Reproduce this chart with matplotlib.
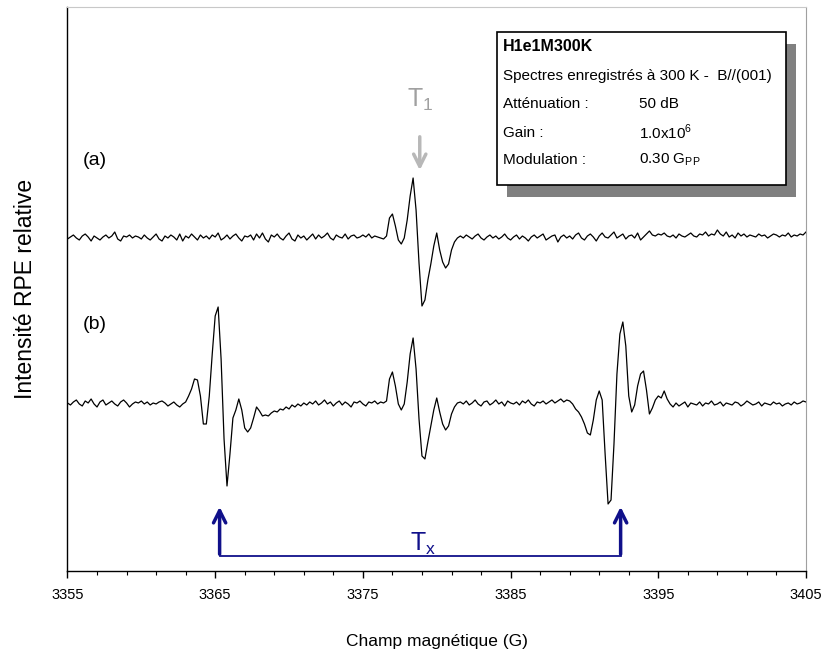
import numpy as np
import matplotlib.pyplot as plt
from matplotlib.patches import Rectangle

plt.rcParams['font.family'] = ['Liberation Sans', 'DejaVu Sans']
plt.rcParams['mathtext.fontset'] = 'custom'
plt.rcParams['mathtext.rm'] = 'Liberation Sans'

# champ magnetique (G), pas de 0.2 G
field = np.round(np.linspace(3355, 3405, 251), 1)

# spectre (a) : T1 seul
spectrum_a = [
    -1, 1, 3, 0, -2, 2, 4, 1, -3, 2,
    0, -2, 1, 3, 0, 2, 6, -1, -3, 2,
    1, 3, 0, 2, 1, -1, 3, 0, -2, 1,
    4, -1, -3, 2, 0, 3, 1, -2, 4, -3,
    2, 0, 4, 1, -2, 3, 0, 2, -1, 3,
    1, 5, -2, 0, 3, -1, 2, 4, 0, -3,
    2, 1, 3, -2, 4, 0, 5, -1, -4, 3,
    1, 4, 0, -2, 2, 5, -1, -3, 3, 0,
    2, -2, 1, 4, -1, 3, 0, 2, 5, 0,
    -2, 3, 1, 0, 4, -1, 2, 3, 0, 1,
    3, 1, 4, 0, 2, 1, 0, -1,
    # raie T1 (3376.6 - 3381.4 G)
    2, 20, 24, 12, -2, -6, 0, 18, 42, 60,
    28, -25, -68, -62, -42, -26, -8, 5, -12, -24,
    -30, -26, -12, -4, 0,
    2, 0, 3, 1, -1, 2, 4, 0,
    -2, 1, 3, 0, 2, -1, 1, 4, 0, -2,
    1, 3, -1, 2, 0, -3, 1, 3, 0, 2,
    4, -2, 0, 2, 3, -4, 1, 3, 0, 2,
    -1, 3, 5, 0, -2, 2, 4, 1, -3, 2,
    5, 1, 0, 3, 6, 0, 2, 4, -1, 2,
    3, 0, 5, -2, 1, 4, 7, 3, 2, 4,
    3, 5, 2, 1, 3, 0, 4, 2, 1, 3,
    5, 2, 1, 4, 3, 6, 2, 4, 3, 8,
    4, 2, 6, 1, 3, 0, 5, 2, 4, 1,
    3, 2, 1, 4, 2, 3, 0, 2, 4, 3,
    1, 3, 2, 5, 1, 3, 2, 4, 3, 6,
]

# spectre (b) : T1 + doublet Tx
spectrum_b = [
    1, -1, 2, 4, 0, -2, 3, 1, 5, 0,
    -3, 2, 4, -1, 1, 3, 0, -2, 2, 4,
    1, -3, 0, 2, 1, 3, 0, 2, -1, 1,
    0, 2, 3, 1, -2, 0, 2, -1, -3, 0,
    # raie Tx basse (3363.0 - 3369.2 G)
    2, 8, 15, 25, 24, 8, -20, -20, 8, 50,
    88, 97, 45, -35, -82, -50, -14, -6, 5, -6,
    -24, -28, -24, -14, -3, -7, -12, -11, -12, -9,
    -7, -8,
    -5, -6, -3, -5, -1, -3, 0, -2,
    1, -1, 2, 0, 3, -1, 1, 4, 0, 2,
    -2, 1, 3, -1, 2, 0, -3, 2, 1, 3,
    0, -2, 2, 1, 3, 0, 2, 1,
    # raie T1
    3, 25, 32, 18, 0, -6, 0, 22, 50, 66,
    35, -15, -52, -55, -38, -22, -6, 6, -8, -20,
    -26, -22, -10, -3, 1,
    2, 0, 3, -1, 1, 4, 0, -2, 2, 3,
    -1, 1, 4, 0, 2, -2, 3, 1, 0, 2,
    -1, 3, 1, 4, 0, -2, 2, 1, 3, 0,
    2, 4, 1, 3, 5, 2, 4,
    # raie Tx haute (3389.0 - 3396.0 G)
    3, 0, -5, -8, -13, -20, -29, -31, -16, 4,
    13, 4, -50, -100, -96, -40, 30, 70, 82, 58,
    8, -8, -1, 18, 30, 33, 14, -10, -4, 4,
    8, 6, 13, 5, 0, -3,
    1, -2, 0, 2, -3, 1, 0, -1, 2, -2,
    1, 0, 3, -1, 0, 2, -2, 1, 0, -1,
    2, 1, -2, 0, 3, 1, -1, 0, 2, -2,
    1, 0, -1, 2, 0, 1, -2, 0, 1, -1,
    2, 0, 1, 3, 2,
]

offset_a = 333
offset_b = 167

info_left = ['Atténuation :', 'Gain :', 'Modulation :']
info_right = ['50 dB', r'1.0x10$^{\mathregular{6}}$', r'0.30 G$_{\mathregular{PP}}$']

fig = plt.figure(figsize=(8.27, 6.62), dpi=100)
ax = fig.add_axes([0.0816, 0.1375, 0.893, 0.8519])

ax.plot(field, np.array(spectrum_a) + offset_a, color='black', lw=0.9)
ax.plot(field, np.array(spectrum_b) + offset_b, color='black', lw=0.9)

ax.set_xlim(3355, 3405)
ax.set_ylim(0, 564)
ax.set_xticks(np.arange(3355, 3406, 10))
ax.set_xticks(np.arange(3355, 3406, 2), minor=True)
ax.set_yticks([])
ax.tick_params(axis='x', which='major', direction='out', length=5, width=1, pad=7, labelsize=10.5)
ax.tick_params(axis='x', which='minor', direction='out', length=3, width=0.8)

ax.spines['top'].set_color('#c8c8c8')
ax.spines['right'].set_color('#a0a0a0')
ax.spines['left'].set_linewidth(1)
ax.spines['bottom'].set_linewidth(1)

ax.set_xlabel('Champ magnétique (G)', fontsize=12.5, labelpad=23)
ax.set_ylabel('Intensité RPE relative', fontsize=16.5, labelpad=22)

# labels des spectres
ax.text(3356.0, 411, '(a)', fontsize=14, va='center')
ax.text(3356.0, 246, '(b)', fontsize=14, va='center')

# fleche T1
ax.annotate('', xy=(3378.85, 398), xytext=(3378.85, 437),
            arrowprops=dict(arrowstyle='->', color='#b8b8b8', lw=2.5, mutation_scale=22))
ax.text(3378.85, 471, r'T$_{\mathregular{1}}$', fontsize=18, color='#a0a0a0',
        ha='center', va='center')

# doublet Tx
tx_left, tx_right = 3365.3, 3392.45
navy = '#10108a'
ax.plot([tx_left, tx_right], [15, 15], color=navy, lw=1.3)
for xx in (tx_left, tx_right):
    ax.annotate('', xy=(xx, 67), xytext=(xx, 14),
                arrowprops=dict(arrowstyle='->', color=navy, lw=2.5, mutation_scale=22))
ax.text(3379.1, 27, r'T$_{\mathregular{x}}$', fontsize=18, color=navy, ha='center', va='center')

# encadre d'informations avec ombre
bx, by, bw, bh = 0.6006, 0.7205, 0.3498, 0.2312
fig.add_artist(Rectangle((bx + 0.0121, by - 0.0181), bw, bh, transform=fig.transFigure,
                         facecolor='#808080', edgecolor='none'))
fig.add_artist(Rectangle((bx, by), bw, bh, transform=fig.transFigure,
                         facecolor='white', edgecolor='black', lw=1.2))
fig.text(0.608, 0.9295, 'H1e1M300K', fontsize=11.5, fontweight='bold', va='center')
fig.text(0.608, 0.8852, 'Spectres enregistrés à 300 K -  B//(001)', fontsize=11, va='center')
rows_y = [0.8429, 0.7995, 0.7583]
for yy, left, right in zip(rows_y, info_left, info_right):
    fig.text(0.608, yy, left, fontsize=11, va='center')
    fig.text(0.7727, yy, right, fontsize=11, va='center')

fig.savefig('out.png', dpi=100)
